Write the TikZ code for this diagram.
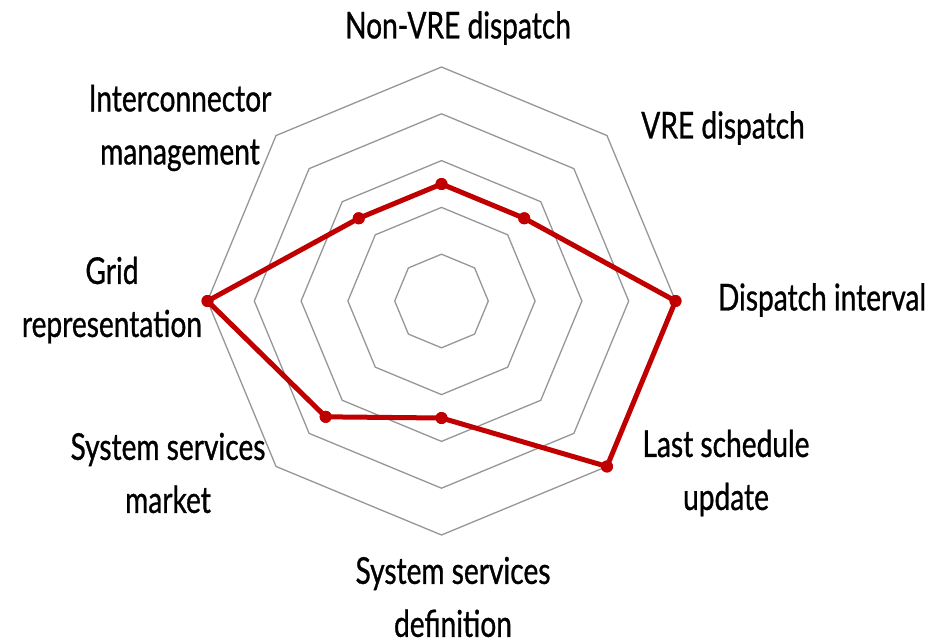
\documentclass[tikz,border=0pt]{standalone}
\usepackage{fontspec}
\usetikzlibrary{calc}
\newfontfamily\labfont[FakeStretch=0.76,FakeBold=0.8]{Lato}
\definecolor{gridgray}{RGB}{150,150,150}
\definecolor{seriesred}{RGB}{192,0,0}
\begin{document}
\begin{tikzpicture}[x=1pt,y=-1pt,
  gridline/.style={draw=gridgray, line width=1.3pt, line join=miter},
  series/.style={draw=seriesred, line width=5pt, line join=round},
  dot/.style={circle, fill=seriesred, inner sep=0pt, minimum size=12pt},
  lab/.style={font=\labfont\fontsize{37}{53}\selectfont, align=center, inner sep=0pt, text=black}]
\useasboundingbox (0,0) rectangle (937,642);
\coordinate (O) at (441.5,301);
\def\st{46.8}
\foreach \k in {1,...,5}{
  \draw[gridline] ($(O)+(-90:\k*\st)$)
    \foreach \a in {-45,0,45,90,135,180,225}{ -- ($(O)+(\a:\k*\st)$) } -- cycle;
}
\foreach \a/\v/\n in {-90/2.5/1,-45/2.5/2,0/5/3,45/5/4,90/2.5/5,135/3.5/6,180/5/7,225/2.5/8}{
  \node[dot] (p\n) at ($(O)+(\a:\v*\st)$) {};
}
\draw[series] (p1.center) -- (p2.center) -- (p3.center) -- (p4.center) -- (p5.center) -- (p6.center) -- (p7.center) -- (p8.center) -- cycle;
\foreach \n in {1,...,8}{ \fill[seriesred] (p\n) circle (6pt); }
\node[lab] (l1) at (458,28) {Non-VRE dispatch};
\node[lab] (l2) at (723,128) {VRE dispatch};
\node[lab] (l3) at (822,300) {Dispatch interval};
\node[lab] (l4) at (726,473) {Last schedule\\update};
\node[lab] (l5) at (453,597) {System services\\definition};
\node[lab] (l6) at (168,473) {System services\\market};
\node[lab] (l7) at (112,300) {Grid\\representation};
\node[lab] (l8) at (180,128) {Interconnector\\management};
\end{tikzpicture}
\end{document}
